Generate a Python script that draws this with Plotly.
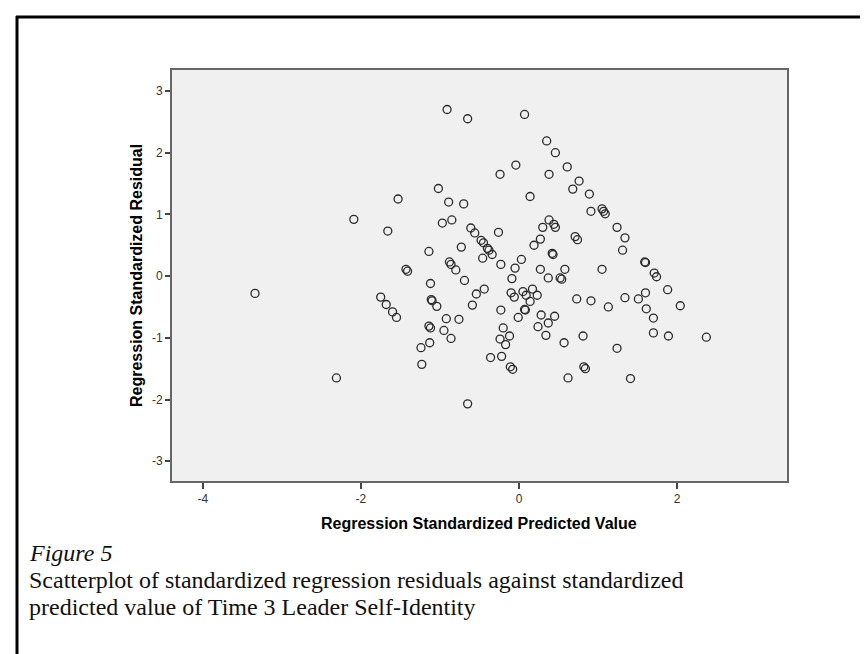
import plotly.graph_objects as go

# Regression standardized predicted value (x) and residual (y)
pred = [-0.91, -0.65, -0.04, -0.24, -1.02, -1.53, -0.89, -0.70, -2.09, -0.85,
        -0.97, -1.66, -0.61, -0.56, -0.26, -0.48, -0.45, -0.40, -0.38, -0.34,
        -0.73, -1.14, -0.46, -0.88, -0.86, -0.23, 0.07, 0.35, 0.46, 0.61,
        0.38, 0.76, 0.68, 0.89, 0.14, 0.91, 1.05, 1.07, 1.09, 0.38,
        0.30, 0.44, 0.46, 1.24, 0.27, 0.19, 0.71, 0.74, 1.34, 1.31,
        0.42, 0.43, 0.03, 1.59, 1.60, -0.05, -1.43, -1.41, -0.80, -0.69,
        -0.09, -1.12, -0.44, -0.54, -0.10, -0.06, -1.75, -1.68, -1.60, -1.55,
        -1.11, -1.10, -1.04, -0.59, -0.23, -0.01, -0.92, -0.76, -1.14, -1.12,
        -0.95, -0.86, -0.20, -0.24, -0.12, -0.17, -1.13, -1.24, -1.23, -0.36,
        -0.22, -0.11, -0.08, -2.31, -0.65, -3.34, 0.27, 0.58, 1.05, 0.37,
        0.52, 0.54, 1.71, 1.74, 1.88, 0.05, 0.17, 0.09, 0.23, 0.14,
        0.07, 0.08, 0.28, 0.45, 0.37, 0.24, 0.34, 0.57, 0.73, 0.91,
        1.13, 0.81, 1.34, 1.51, 1.60, 1.61, 1.70, 2.04, 1.70, 1.89,
        2.37, 1.24, 0.82, 0.84, 0.62, 1.41]
resid = [2.70, 2.55, 1.80, 1.65, 1.42, 1.25, 1.20, 1.17, 0.92, 0.91,
         0.86, 0.73, 0.78, 0.70, 0.71, 0.58, 0.54, 0.45, 0.42, 0.35,
         0.47, 0.40, 0.29, 0.23, 0.19, 0.19, 2.62, 2.19, 2.00, 1.77,
         1.65, 1.54, 1.41, 1.33, 1.29, 1.05, 1.09, 1.05, 1.01, 0.91,
         0.79, 0.84, 0.79, 0.79, 0.60, 0.50, 0.64, 0.59, 0.62, 0.42,
         0.37, 0.35, 0.27, 0.23, 0.22, 0.13, 0.11, 0.08, 0.10, -0.07,
         -0.04, -0.12, -0.21, -0.29, -0.27, -0.34, -0.34, -0.46, -0.58, -0.67,
         -0.38, -0.40, -0.49, -0.47, -0.55, -0.67, -0.69, -0.70, -0.81, -0.84,
         -0.88, -1.01, -0.84, -1.02, -0.97, -1.11, -1.08, -1.16, -1.43, -1.32,
         -1.30, -1.47, -1.51, -1.65, -2.07, -0.28, 0.11, 0.11, 0.11, -0.03,
         -0.03, -0.05, 0.05, -0.01, -0.22, -0.25, -0.21, -0.31, -0.31, -0.41,
         -0.54, -0.55, -0.63, -0.65, -0.76, -0.82, -0.96, -1.08, -0.37, -0.40,
         -0.50, -0.97, -0.35, -0.37, -0.27, -0.53, -0.68, -0.48, -0.92, -0.97,
         -0.99, -1.17, -1.47, -1.50, -1.65, -1.66]

x_ticks = [-4, -2, 0, 2]
y_ticks = [-3, -2, -1, 0, 1, 2, 3]

x_title = "Regression Standardized Predicted Value"
y_title = "Regression Standardized Residual"
caption_label = "Figure 5"
caption_lines = ["Scatterplot of standardized regression residuals against standardized",
                 "predicted value of Time 3 Leader Self-Identity"]

W, H = 868, 654
L, R, T, B = 164, 779, 62, 473  # plot area pixel box


def px(xp):
    return (xp - L) / (R - L)


def py(yp):
    return (B - yp) / (B - T)


fig = go.Figure()
fig.add_trace(go.Scatter(
    x=pred, y=resid, mode="markers",
    marker=dict(symbol="circle-open", size=8, color="#2a2a2a", line=dict(width=1.3)),
    hoverinfo="skip", showlegend=False))

axis_font = dict(family="Liberation Sans, Arial, sans-serif", size=12, color="#333333")
fig.update_layout(
    width=W, height=H,
    margin=dict(l=L, r=W - R, t=T, b=H - B),
    paper_bgcolor="white", plot_bgcolor="#f0f0f0",
    showlegend=False,
    xaxis=dict(range=[-4.39, 3.39], tickvals=x_ticks, ticktext=[str(v) for v in x_ticks],
               showgrid=False, zeroline=False, showline=True, linecolor="#666666",
               linewidth=2, mirror=True, ticks="outside", ticklen=6, tickwidth=1.5,
               tickcolor="#444444", tickfont=axis_font),
    yaxis=dict(range=[-3.32, 3.34], tickvals=y_ticks, ticktext=[str(v) for v in y_ticks],
               showgrid=False, zeroline=False, showline=True, linecolor="#666666",
               linewidth=2, mirror=True, ticks="outside", ticklen=5, tickwidth=1.5,
               tickcolor="#444444", tickfont=axis_font),
)

title_font = dict(family="Liberation Sans, Arial, sans-serif", size=16, color="black")
cap_font = dict(family="Liberation Serif, Times New Roman, serif", size=24, color="#111111")
annotations = [
    dict(text="<b>%s</b>" % x_title, x=px(471), y=py(515), xref="paper", yref="paper",
         showarrow=False, xanchor="center", yanchor="middle", font=title_font),
    dict(text="<b>%s</b>" % y_title, x=px(128), y=py(268), xref="paper", yref="paper",
         showarrow=False, xanchor="center", yanchor="middle", textangle=-90, font=title_font),
    dict(text="<i>%s</i>" % caption_label, x=px(19), y=py(545), xref="paper", yref="paper",
         showarrow=False, xanchor="left", yanchor="middle", font=cap_font),
]
for i, line in enumerate(caption_lines):
    annotations.append(dict(text=line, x=px(19), y=py(572 + 27 * i), xref="paper", yref="paper",
                            showarrow=False, xanchor="left", yanchor="middle", font=cap_font))
fig.update_layout(annotations=annotations)

# outer frame (left and top edges visible in the crop)
fig.add_shape(type="line", xref="paper", yref="paper", x0=px(9), x1=px(9), y0=py(8), y1=py(660),
              line=dict(color="black", width=3))
fig.add_shape(type="line", xref="paper", yref="paper", x0=px(8), x1=px(875), y0=py(9), y1=py(9),
              line=dict(color="black", width=3))

fig.write_html("out.html")
